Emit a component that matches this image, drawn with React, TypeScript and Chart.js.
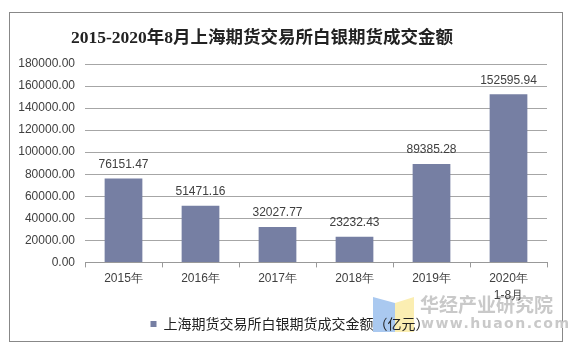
import React, { useEffect, useRef } from "react";
import { Chart, registerables } from "chart.js";

Chart.register(...registerables);

const categories: (string | string[])[] = ["2015年", "2016年", "2017年", "2018年", "2019年", ["2020年", "1-8月"]];
const values: number[] = [76151.47, 51471.16, 32027.77, 23232.43, 89385.28, 152595.94];
const seriesName = "上海期货交易所白银期货成交金额（亿元）";
const titleText = "2015-2020年8月上海期货交易所白银期货成交金额";
const yMax = 180000;
const yStep = 20000;

const barColor = "#767fa3";
const textColor = "#404040";

const decorPlugin = {
  id: "decor",
  afterLayout(chart: any) {
    if (chart.legend) {
      chart.legend.left += 9;
      chart.legend.right += 9;
    }
  },
  beforeDraw(chart: any) {
    const ctx = chart.ctx;
    ctx.save();
    ctx.fillStyle = "#ffffff";
    ctx.fillRect(0, 0, chart.width, chart.height);
    ctx.strokeStyle = "#888888";
    ctx.lineWidth = 1;
    ctx.strokeRect(9.5, 12.5, 553, 329);
    // title
    ctx.fillStyle = "#222222";
    ctx.textAlign = "center";
    ctx.textBaseline = "middle";
    ctx.font = "bold 17.5px 'Liberation Serif', 'Noto Sans CJK SC', serif";
    ctx.fillText(titleText, 262, 38);
    // watermark logo
    ctx.fillStyle = "#aac9f0";
    ctx.beginPath();
    ctx.moveTo(373, 297);
    ctx.lineTo(395, 303);
    ctx.lineTo(395, 332);
    ctx.lineTo(373, 332);
    ctx.closePath();
    ctx.fill();
    ctx.fillStyle = "#fbeeb2";
    ctx.beginPath();
    ctx.moveTo(395, 303);
    ctx.lineTo(414, 297);
    ctx.lineTo(414, 332);
    ctx.lineTo(395, 332);
    ctx.closePath();
    ctx.fill();
    ctx.fillStyle = "#c9c9c9";
    ctx.textAlign = "left";
    ctx.font = "bold 19px 'Noto Sans CJK SC'";
    ctx.fillText("华经产业研究院", 420, 305);
    ctx.font = "bold 14px 'DejaVu Sans'";
    (ctx as any).letterSpacing = "1.5px";
    ctx.fillText("www.huaon.com", 421, 324);
    ctx.restore();
  },
  afterDatasetsDraw(chart: any) {
    const ctx = chart.ctx;
    const meta = chart.getDatasetMeta(0);
    ctx.save();
    ctx.fillStyle = textColor;
    ctx.font = "12px 'Liberation Sans', Arial, sans-serif";
    ctx.textAlign = "center";
    ctx.textBaseline = "middle";
    meta.data.forEach((bar: any, i: number) => {
      ctx.fillText(values[i].toFixed(2), bar.x, bar.y - 14);
    });
    ctx.restore();
  },
};

export default function App() {
  const ref = useRef<HTMLCanvasElement | null>(null);
  useEffect(() => {
    if (!ref.current) return;
    const chart = new Chart(ref.current, {
      type: "bar",
      data: {
        labels: categories,
        datasets: [
          {
            label: seriesName,
            data: values,
            backgroundColor: barColor,
            barPercentage: 0.49,
            categoryPercentage: 1,
          },
        ],
      },
      options: {
        animation: false,
        responsive: false,
        devicePixelRatio: 1,
        layout: { padding: { left: 15, right: 26, top: 64, bottom: 10 } },
        plugins: {
          title: { display: false },
          legend: {
            display: true,
            position: "bottom",
            labels: {
              color: "#222222",
              boxWidth: 6,
              boxHeight: 6,
              padding: 10,
              font: { family: "'Noto Sans CJK SC', sans-serif", size: 14 },
            },
          },
          tooltip: { enabled: false },
        },
        scales: {
          x: {
            grid: {
              offset: true,
              drawOnChartArea: false,
              drawTicks: true,
              tickLength: 5,
              color: "#999999",
            },
            border: { display: true, color: "#999999" },
            ticks: {
              color: textColor,
              font: { family: "'Liberation Sans', Arial, sans-serif", size: 12, lineHeight: 1.4 },
              padding: 3,
              maxRotation: 0,
              autoSkip: false,
            },
          },
          y: {
            min: 0,
            max: yMax,
            ticks: {
              stepSize: yStep,
              color: textColor,
              font: { family: "'Liberation Sans', Arial, sans-serif", size: 12 },
              padding: 10,
              callback: (v: any) => Number(v).toFixed(2),
            },
            grid: { color: "#a6a6a6", drawTicks: false },
            border: { display: false },
            afterFit: (scale: any) => {
              scale.width = 70;
            },
          },
        },
      },
      plugins: [decorPlugin],
    });
    return () => chart.destroy();
  }, []);
  return (
    <div style={{ position: "absolute", left: 0, top: 0, width: 573, height: 351 }}>
      <canvas ref={ref} width={573} height={351} style={{ width: 573, height: 351, display: "block" }} />
    </div>
  );
}
